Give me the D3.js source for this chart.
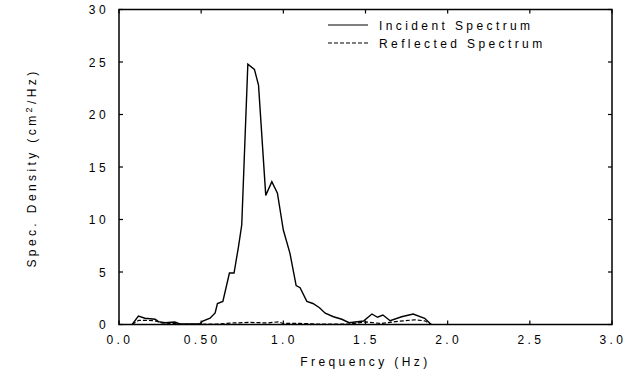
<!DOCTYPE html>
<html><head><meta charset="utf-8">
<script src="https://cdn.jsdelivr.net/npm/d3@7"></script>
<style>
body{margin:0;background:#fff;}
text{font-family:"Liberation Sans",Arial,sans-serif;fill:#000;}
</style></head>
<body><svg id="c" width="625" height="371"></svg>
<script>
const incidentFreq = [0.08,0.118,0.158,0.22,0.24,0.28,0.34,0.37,0.49,0.51,0.554,0.585,0.599,0.632,0.672,0.70,0.727,0.747,0.784,0.824,0.849,0.893,0.930,0.964,1.0,1.04,1.078,1.102,1.143,1.18,1.22,1.255,1.305,1.356,1.40,1.488,1.539,1.573,1.606,1.65,1.72,1.79,1.86,1.90];
const incidentVal  = [0,0.8,0.6,0.5,0.27,0.17,0.24,0.05,0.05,0.33,0.6,1.1,2.0,2.2,4.9,4.9,7.4,9.5,24.8,24.3,22.8,12.3,13.6,12.5,9.0,6.8,3.7,3.5,2.2,2.0,1.6,1.07,0.74,0.5,0.17,0.33,1.0,0.69,0.9,0.36,0.74,1.0,0.59,0];
const reflectedFreq = [0.08,0.12,0.16,0.22,0.26,0.34,0.38,0.5,0.6,0.7,0.8,0.9,0.97,1.0,1.1,1.2,1.3,1.4,1.5,1.56,1.6,1.7,1.8,1.86,1.9];
const reflectedVal  = [0,0.4,0.4,0.35,0.15,0.1,0.02,0.02,0.05,0.15,0.2,0.15,0.25,0.1,0.1,0.05,0.05,0.05,0.25,0.15,0.1,0.3,0.45,0.35,0];
const xTicks = [0,0.5,1.0,1.5,2.0,2.5,3.0];
const xTickLabels = ["0.0","0.50","1.0","1.5","2.0","2.5","3.0"];
const yTicks = [0,5,10,15,20,25,30];
const legendLabels = ["Incident Spectrum","Reflected Spectrum"];

const svg = d3.select("#c");
const L=119,R=612,T=9.5,B=324.5;
const x = d3.scaleLinear().domain([0,3]).range([L,R]);
const y = d3.scaleLinear().domain([0,30]).range([B,T]);
const ls = "3.4px", fs = 12;

svg.append("rect").attr("x",L).attr("y",T).attr("width",R-L).attr("height",B-T)
  .attr("fill","none").attr("stroke","#000").attr("stroke-width",1.5);

const tl=4;
xTicks.forEach((t,i)=>{
  svg.append("line").attr("x1",x(t)).attr("x2",x(t)).attr("y1",B).attr("y2",B-tl).attr("stroke","#000").attr("stroke-width",1.2);
  svg.append("line").attr("x1",x(t)).attr("x2",x(t)).attr("y1",T).attr("y2",T+tl).attr("stroke","#000").attr("stroke-width",1.2);
  svg.append("text").attr("x",x(t)+1).attr("y",344).attr("text-anchor","middle")
    .attr("font-size",fs).style("letter-spacing",ls).text(xTickLabels[i]);
});
yTicks.forEach(t=>{
  svg.append("line").attr("x1",L).attr("x2",L+tl).attr("y1",y(t)).attr("y2",y(t)).attr("stroke","#000").attr("stroke-width",1.2);
  svg.append("line").attr("x1",R).attr("x2",R-tl).attr("y1",y(t)).attr("y2",y(t)).attr("stroke","#000").attr("stroke-width",1.2);
  svg.append("text").attr("x",109).attr("y",y(t)+4.5).attr("text-anchor","end")
    .attr("font-size",fs).style("letter-spacing",ls).text(t);
});

svg.append("text").attr("x",(L+R)/2).attr("y",366).attr("text-anchor","middle")
  .attr("font-size",fs).style("letter-spacing",ls).text("Frequency (Hz)");
const yt = svg.append("text").attr("transform","translate(36,168) rotate(-90)").attr("text-anchor","middle")
  .attr("font-size",fs).style("letter-spacing",ls);
yt.append("tspan").text("Spec. Density (cm");
yt.append("tspan").attr("dy",-4).attr("font-size",9).text("2");
yt.append("tspan").attr("dy",4).text("/Hz)");

const line = d3.line().x(d=>x(d[0])).y(d=>y(d[1]));
svg.append("path").datum(incidentFreq.map((f,i)=>[f,incidentVal[i]]))
  .attr("d",line).attr("fill","none").attr("stroke","#000").attr("stroke-width",1.4);
svg.append("path").datum(reflectedFreq.map((f,i)=>[f,reflectedVal[i]]))
  .attr("d",line).attr("fill","none").attr("stroke","#000").attr("stroke-width",1.2).attr("stroke-dasharray","4,2");

legendLabels.forEach((lab,i)=>{
  const ly = 25 + i*18;
  svg.append("line").attr("x1",328).attr("x2",368).attr("y1",ly).attr("y2",ly)
    .attr("stroke","#000").attr("stroke-width",1.2).attr("stroke-dasharray", i? "4,2": null);
  svg.append("text").attr("x",379).attr("y",ly+4.5).attr("font-size",fs).style("letter-spacing",ls).text(lab);
});
</script></body></html>
